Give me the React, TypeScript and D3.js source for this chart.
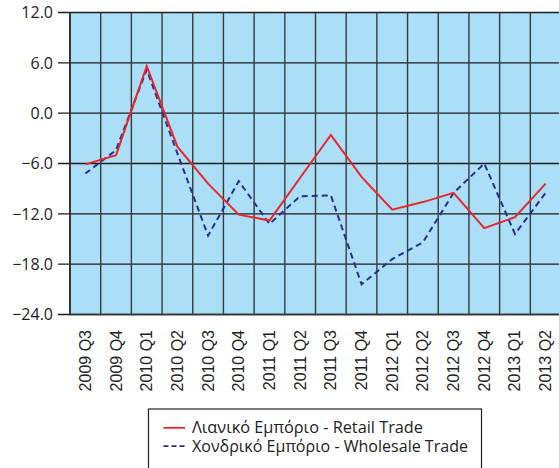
import React, { useEffect, useRef } from "react";
import * as d3 from "d3";

const categories = [
  "2009 Q3", "2009 Q4", "2010 Q1", "2010 Q2", "2010 Q3", "2010 Q4",
  "2011 Q1", "2011 Q2", "2011 Q3", "2011 Q4", "2012 Q1", "2012 Q2",
  "2012 Q3", "2012 Q4", "2013 Q1", "2013 Q2",
];
const retail = [-6.1, -5.0, 5.6, -4.0, -8.4, -12.1, -12.8, -7.7, -2.6, -7.6, -11.5, -10.6, -9.5, -13.7, -12.4, -8.4];
const wholesale = [-7.2, -4.4, 5.2, -4.8, -14.6, -8.1, -13.2, -9.9, -9.8, -20.4, -17.4, -15.4, -9.5, -6.0, -14.4, -9.5];
const yTicks = [12, 6, 0, -6, -12, -18, -24];
const seriesNames = ["Λιανικό Εμπόριο - Retail Trade", "Χονδρικό Εμπόριο - Wholesale Trade"];

const W = 559;
const H = 468;

export default function App() {
  const ref = useRef<SVGSVGElement>(null);
  useEffect(() => {
    const svg = d3.select(ref.current);
    svg.selectAll("*").remove();
    const left = 70, right = 561, top = 12.5, bottom = 314.5;
    const x = d3.scaleBand<string>().domain(categories).range([left, right]);
    const y = d3.scaleLinear().domain([-24, 12]).range([bottom, top]);
    const cx = (c: string) => (x(c) as number) + x.bandwidth() / 2;

    svg.append("rect").attr("x", left).attr("y", top).attr("width", right - left).attr("height", bottom - top).attr("fill", "#abdff8");

    // horizontal grid
    svg.append("g").selectAll("line").data(yTicks).join("line")
      .attr("x1", left - 12).attr("x2", right)
      .attr("y1", (d) => y(d)).attr("y2", (d) => y(d))
      .attr("stroke", "#1c1c1c").attr("stroke-width", 1.3);
    // vertical grid
    const bounds = categories.map((c) => x(c) as number).concat([right]);
    svg.append("g").selectAll("line").data(bounds).join("line")
      .attr("x1", (d) => d).attr("x2", (d) => d)
      .attr("y1", top).attr("y2", bottom)
      .attr("stroke", "#3a3a3a").attr("stroke-width", 1.4);
    // axis lines
    svg.append("line").attr("x1", left).attr("x2", left).attr("y1", top).attr("y2", bottom).attr("stroke", "#222").attr("stroke-width", 1.4);
    svg.append("line").attr("x1", left).attr("x2", right).attr("y1", bottom).attr("y2", bottom).attr("stroke", "#333").attr("stroke-width", 1.6);

    // y labels
    svg.append("g").selectAll("text").data(yTicks).join("text")
      .attr("x", 53).attr("y", (d) => y(d)).attr("dy", "0.36em")
      .attr("text-anchor", "end")
      .attr("font-family", "'Open Sans', sans-serif").attr("font-size", 16).attr("fill", "#222")
      .text((d) => d3.format(".1f")(d));

    // x labels
    svg.append("g").selectAll("text").data(categories).join("text")
      .attr("transform", (d) => `translate(${cx(d) + 5.5},${330}) rotate(-90)`)
      .attr("text-anchor", "end")
      .attr("font-family", "'Liberation Sans', Arial, sans-serif").attr("font-size", 16).attr("fill", "#222")
      .text((d) => d);

    const line = d3.line<number>().x((_, i) => cx(categories[i])).y((d) => y(d));
    svg.append("path").datum(wholesale).attr("d", line).attr("fill", "none")
      .attr("stroke", "#2a2d8c").attr("stroke-width", 2).attr("stroke-dasharray", "6,4");
    svg.append("path").datum(retail).attr("d", line).attr("fill", "none")
      .attr("stroke", "#e8262b").attr("stroke-width", 2);

    // legend
    const lg = svg.append("g");
    lg.append("rect").attr("x", 148.5).attr("y", 409).attr("width", 333).attr("height", 70)
      .attr("fill", "white").attr("stroke", "#222").attr("stroke-width", 1.2);
    const baselines = [433.3, 451.7];
    const widths = [231, 276];
    const colors = ["#e8262b", "#2a2d8c"];
    seriesNames.forEach((n, i) => {
      lg.append("line").attr("x1", 163.5).attr("x2", 185).attr("y1", baselines[i] - 5.5).attr("y2", baselines[i] - 5.5)
        .attr("stroke", colors[i]).attr("stroke-width", 1.8)
        .attr("stroke-dasharray", i === 1 ? "5,3" : null);
      lg.append("text").attr("x", 192).attr("y", baselines[i])
        .attr("font-family", "'Open Sans', sans-serif").attr("font-size", 15.5).attr("fill", "#222")
        .attr("textLength", widths[i]).attr("lengthAdjust", "spacingAndGlyphs")
        .text(n);
    });
  }, []);
  return (
    <svg ref={ref} width={W} height={H} style={{ position: "absolute", left: 0, top: 0, background: "white" }} />
  );
}
